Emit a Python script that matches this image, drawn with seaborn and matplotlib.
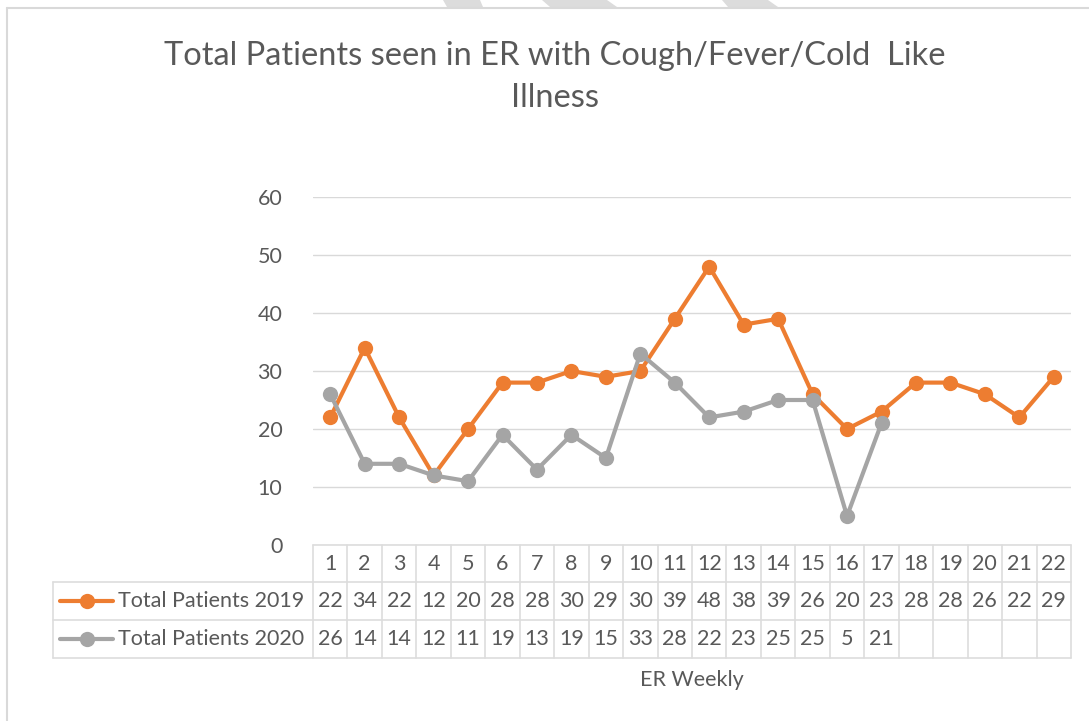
import matplotlib
matplotlib.use("Agg")
import matplotlib.pyplot as plt
import matplotlib.transforms as mtransforms
from matplotlib.patches import Polygon
from matplotlib.lines import Line2D
import seaborn as sns
import pandas as pd

weeks = list(range(1, 23))
patients_2019 = [22, 34, 22, 12, 20, 28, 28, 30, 29, 30, 39, 48, 38, 39, 26, 20, 23, 28, 28, 26, 22, 29]
patients_2020 = [26, 14, 14, 12, 11, 19, 13, 19, 15, 33, 28, 22, 23, 25, 25, 5, 21]
series_names = ["Total Patients 2019", "Total Patients 2020"]
colors = ["#ED7D31", "#A5A5A5"]
text_col = "#595959"
grid_col = "#D9D9D9"

rows = []
for w, v in zip(weeks, patients_2019):
    rows.append({"week": w, "patients": v, "series": series_names[0]})
for w, v in zip(weeks, patients_2020):
    rows.append({"week": w, "patients": v, "series": series_names[1]})
df = pd.DataFrame(rows)

sns.set_style("white")
plt.rcParams['font.family'] = ['Lato', 'DejaVu Sans']

W, H = 1089, 721
fig = plt.figure(figsize=(W / 100, H / 100), dpi=100)
ax = fig.add_axes([313 / W, 1 - 545 / H, (1071 - 313) / W, (545 - 197) / H])

sns.lineplot(data=df, x="week", y="patients", hue="series", hue_order=series_names,
             palette=colors, marker="o", markersize=11, markeredgewidth=0,
             linewidth=3, legend=False, ax=ax)

ax.set_xlim(0.5, 22.5)
ax.set_ylim(0, 60)
ax.set_yticks([0, 10, 20, 30, 40, 50, 60])
ax.yaxis.grid(True, color=grid_col, linewidth=1)
ax.set_axisbelow(True)
ax.set_xticks([])
ax.tick_params(axis="y", length=0, pad=22, labelsize=15.5, labelcolor=text_col)
for s in ax.spines.values():
    s.set_visible(False)
ax.set_xlabel("")
ax.set_ylabel("")

# data table below the plot
tr = mtransforms.blended_transform_factory(ax.transData, ax.transAxes)
px = 1 / (545 - 197)
row_y = [0, -37 * px, -75 * px, -113 * px]
left_x = 0.5 - (313 - 53) / ((1071 - 313) / 22)
lc = "#DDDDDD"

ax.plot([0.5, 22.5], [row_y[0]] * 2, color=lc, lw=1.2, transform=tr, clip_on=False)
for y in row_y[1:]:
    ax.plot([left_x, 22.5], [y, y], color=lc, lw=1.2, transform=tr, clip_on=False)
for i in range(23):
    ax.plot([0.5 + i] * 2, [row_y[0], row_y[3]], color=lc, lw=1.2, transform=tr, clip_on=False)
ax.plot([left_x] * 2, [row_y[1], row_y[3]], color=lc, lw=1.2, transform=tr, clip_on=False)

fs = 15.5
for w in weeks:
    ax.text(w, (row_y[0] + row_y[1]) / 2, str(w), ha="center", va="center",
            fontsize=fs, color=text_col, transform=tr, clip_on=False)
for r, (vals, name, c) in enumerate(zip([patients_2019, patients_2020], series_names, colors)):
    yc = (row_y[r + 1] + row_y[r + 2]) / 2
    for w, v in zip(weeks, vals):
        ax.text(w, yc, str(v), ha="center", va="center", fontsize=fs,
                color=text_col, transform=tr, clip_on=False)
    lx0 = left_x + 7 / 34.45
    ax.add_line(Line2D([lx0, lx0 + 53 / 34.45], [yc, yc], color=c, lw=3,
                       transform=tr, clip_on=False))
    ax.add_line(Line2D([lx0 + 27 / 34.45], [yc], color=c, marker="o", markersize=11,
                       markeredgewidth=0, transform=tr, clip_on=False))
    ax.text(lx0 + 58 / 34.45, yc, name, ha="left", va="center", fontsize=fs,
            color=text_col, transform=tr, clip_on=False)

ax.text(0.5, -(680 - 545) * px, "ER Weekly", ha="center", va="center",
        fontsize=fs, color=text_col, transform=ax.transAxes)

fig.text(555 / W, 1 - 77 / H, "Total Patients seen in ER with Cough/Fever/Cold  Like\nIllness",
         ha="center", va="center", fontsize=23.5, color=text_col, linespacing=1.5)

# chart border and the watermark pieces at the top edge
fig.add_artist(Line2D([7 / W, 1], [1 - 8 / H] * 2, color=grid_col, lw=1.5))
fig.add_artist(Line2D([7 / W] * 2, [0, 1 - 8 / H], color=grid_col, lw=1.5))
for xs in [(443, 480, 483, 447), (542, 607, 617, 550), (722, 768, 778, 728)]:
    pts = [(xs[0] / W, 1), (xs[1] / W, 1), (xs[2] / W, 1 - 7 / H), (xs[3] / W, 1 - 7 / H)]
    fig.add_artist(Polygon(pts, closed=True, color="#DCDCDC", lw=0))

fig.savefig("out.png", dpi=100)
